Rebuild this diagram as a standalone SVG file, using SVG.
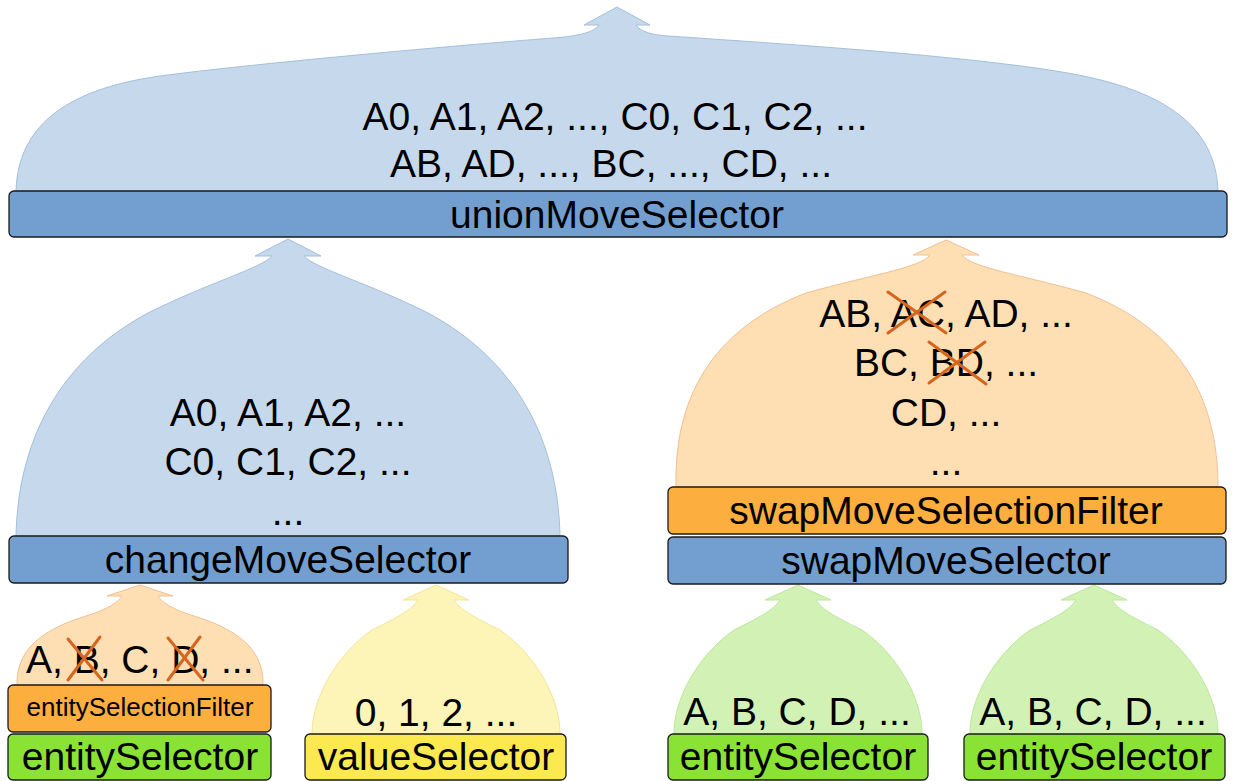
<svg xmlns="http://www.w3.org/2000/svg" width="1234" height="781" viewBox="0 0 1234 781">
<style>
text{font-family:"Liberation Sans",Arial,sans-serif;fill:#000;text-anchor:middle}
.lbl{font-size:39px}
.sm{font-size:26px}
.box{stroke:#1a1a1a;stroke-width:1.3}
.bBlue{fill:#729fcf}
.bOrange{fill:#fcaf3e}
.bGreen{fill:#8ae234}
.bYellow{fill:#fce94f}
.fBlue{fill:#c6d9ec;stroke:#a3bfdc;stroke-width:1}
.fOrange{fill:#fddfb3;stroke:#f2bf94;stroke-width:1}
.fGreen{fill:#d2f2b5;stroke:#bce79a;stroke-width:1}
.fYellow{fill:#fdf4b8;stroke:#f4e597;stroke-width:1}
.x{stroke:#d4661f;stroke-width:3;stroke-linecap:round}
.s{text-anchor:start}
</style>
<defs>
<path id="smallBlob" d="M-124,0 C-125,-35 -100,-80 -64,-105 C-40,-117 -24,-125 -18,-135 L-33,-135 L0,-150 L33,-135 L18,-135 C24,-125 40,-117 64,-105 C100,-80 125,-35 124,0 Z"/>
</defs>
<g id="connectors">
<path class="fBlue" d="M16,191 C18,130 60,90 160,76 C250,64 450,46 553,38 C580,36 594,32 599,25 L584,25 L617,7 L650,25 L636,25 C641,32 652,35 668,36 C800,45 1000,58 1088,77 C1170,95 1216,130 1218,191 Z"/>
<path class="fBlue" d="M16,536 C18,440 60,360 148,313 C210,282 262,268 272,256 L255,256 L288,239 L321,256 L304,256 C314,268 366,282 428,313 C516,360 558,440 560,536 Z"/>
<path class="fOrange" d="M676,487 C674,400 710,330 806,293 C870,275 920,268 930,255 L913,255 L946,240 L979,255 L962,255 C972,268 1022,275 1086,293 C1182,330 1218,400 1218,487 Z"/>
<path class="fOrange" d="M17,685 C16,655 35,632 83,617 C105,610 117,604 122,596 L107,596 L140,585 L173,596 L158,596 C163,604 175,610 197,617 C245,632 264,655 263,685 Z"/>
<use href="#smallBlob" class="fYellow" x="436" y="735"/>
<use href="#smallBlob" class="fGreen" x="798" y="735"/>
<use href="#smallBlob" class="fGreen" x="1094" y="735"/>
<g id="flow-labels">
<text class="lbl" x="615" y="130">A0, A1, A2, ..., C0, C1, C2, ...</text>
<text class="lbl" x="611" y="177">AB, AD, ..., BC, ..., CD, ...</text>
<text class="lbl" x="288" y="426">A0, A1, A2, ...</text>
<text class="lbl" x="288" y="475">C0, C1, C2, ...</text>
<text class="lbl" x="288" y="525">...</text>
<text class="lbl" x="946" y="327">AB, AC, AD, ...</text>
<text class="lbl" x="946" y="376">BC, BD, ...</text>
<text class="lbl" x="946" y="426">CD, ...</text>
<text class="lbl" x="946" y="475">...</text>
<text class="lbl s" x="26" y="673">A, B, C, D, ...</text>
<text class="lbl" x="436" y="726">0, 1, 2, ...</text>
<text class="lbl" x="797" y="725">A, B, C, D, ...</text>
<text class="lbl" x="1093" y="725">A, B, C, D, ...</text>
</g>
<g id="crosses">
<line class="x" x1="68" y1="639" x2="102" y2="680"/>
<line class="x" x1="100" y1="637" x2="68" y2="680"/>
<line class="x" x1="168" y1="638" x2="203" y2="680"/>
<line class="x" x1="200" y1="637" x2="168" y2="680"/>
<line class="x" x1="888" y1="292" x2="946" y2="333"/>
<line class="x" x1="945" y1="292" x2="888" y2="333"/>
<line class="x" x1="929" y1="342" x2="986" y2="384"/>
<line class="x" x1="985" y1="342" x2="929" y2="383"/>
</g>
</g>
<g id="unionMoveSelector">
<rect class="box bBlue" x="9" y="191" width="1218" height="46" rx="5"/>
<text class="lbl" x="617" y="228">unionMoveSelector</text>
</g>
<g id="changeMoveSelector">
<rect class="box bBlue" x="9" y="536" width="559" height="47" rx="5"/>
<text class="lbl" x="288" y="573">changeMoveSelector</text>
</g>
<g id="swapMoveSelectionFilter">
<rect class="box bOrange" x="668" y="487" width="558" height="47" rx="5"/>
<text class="lbl" x="946" y="524">swapMoveSelectionFilter</text>
</g>
<g id="swapMoveSelector">
<rect class="box bBlue" x="668" y="537" width="558" height="47" rx="5"/>
<text class="lbl" x="946" y="574">swapMoveSelector</text>
</g>
<g id="entitySelectionFilter">
<rect class="box bOrange" x="8" y="685" width="263" height="47" rx="5"/>
<text class="sm" x="140" y="716">entitySelectionFilter</text>
</g>
<g id="entitySelector1">
<rect class="box bGreen" x="8" y="734" width="263" height="46" rx="5"/>
<text class="lbl" x="140" y="770">entitySelector</text>
</g>
<g id="valueSelector">
<rect class="box bYellow" x="305" y="734" width="261" height="46" rx="5"/>
<text class="lbl" x="436" y="770">valueSelector</text>
</g>
<g id="entitySelector2">
<rect class="box bGreen" x="668" y="734" width="260" height="46" rx="5"/>
<text class="lbl" x="798" y="770">entitySelector</text>
</g>
<g id="entitySelector3">
<rect class="box bGreen" x="964" y="734" width="261" height="46" rx="5"/>
<text class="lbl" x="1094" y="770">entitySelector</text>
</g>
</svg>
